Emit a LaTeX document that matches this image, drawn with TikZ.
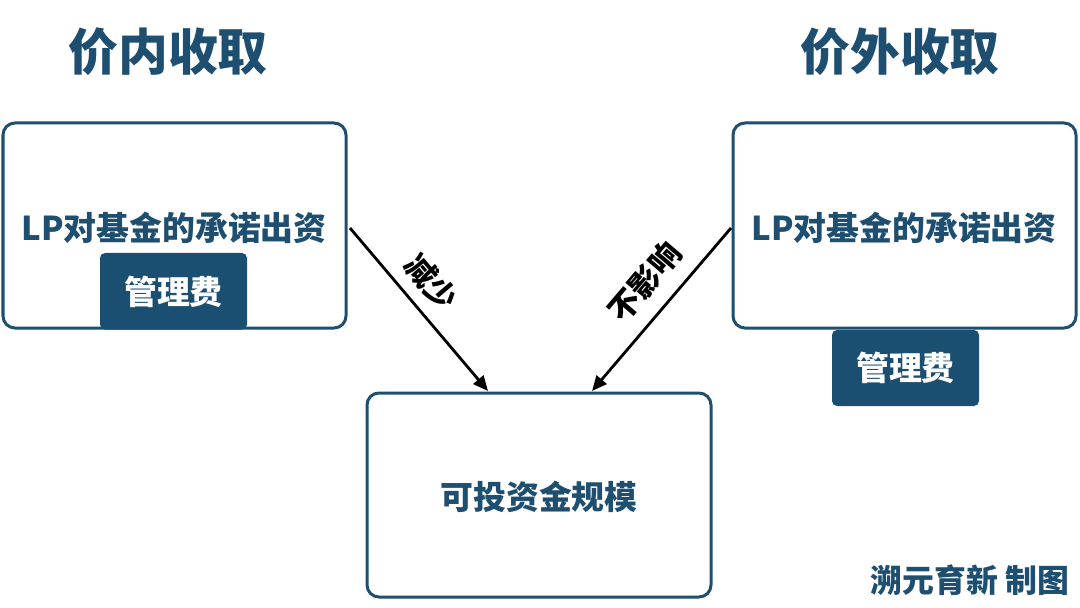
\documentclass[tikz,border=0pt]{standalone}
\usepackage{fontspec}
\setmainfont{Noto Sans CJK SC}
\usetikzlibrary{arrows.meta}
\definecolor{navy}{HTML}{1E4F70}
\definecolor{fillnavy}{HTML}{1B4F72}
\tikzset{
  mainbox/.style={draw=navy, line width=3bp, rounded corners=12bp, fill=white},
  feebox/.style={fill=fillnavy, rounded corners=5bp},
  title/.style={text=navy, font=\bfseries\fontsize{50}{56}\selectfont},
  boxtext/.style={text=navy, font=\bfseries\fontsize{33}{38}\selectfont},
  feetext/.style={text=white, font=\bfseries\fontsize{33}{38}\selectfont},
  lbl/.style={text=black, inner sep=0bp, font=\bfseries\fontsize{31}{34}\selectfont},
  conn/.style={draw=black, line width=2.8bp, -{Triangle[length=15bp,width=13bp]}},
}
\begin{document}
\begin{tikzpicture}[x=1bp,y=-1bp]
\useasboundingbox (0,0) rectangle (1080,608);
\fill[white] (0,0) rectangle (1080,608);
% titles
\node[title] (t1) at (168,52) {价内收取};
\node[title] (t2) at (900,52) {价外收取};
% boxes
\draw[mainbox] (3,123) rectangle (346,328);
\path (3,123) rectangle (346,328) node[midway, inner sep=0] (lbox) {};
\draw[mainbox] (733,123) rectangle (1076,328);
\path (733,123) rectangle (1076,328) node[midway, inner sep=0] (rbox) {};
\draw[mainbox] (367,393) rectangle (711,597);
\path (367,393) rectangle (711,597) node[midway, inner sep=0] (cbox) {};
% texts
\node[boxtext] (ltxt) at (174,228) {LP对基金的承诺出资};
\node[boxtext] (rtxt) at (904,228) {LP对基金的承诺出资};
\node[boxtext] (ctxt) at (539,497) {可投资金规模};
% fee boxes
\fill[feebox] (100,253) rectangle (247,329.5);
\node[feetext] (lfee) at (173.5,292) {管理费};
\fill[feebox] (832,330) rectangle (979,406);
\node[feetext] (rfee) at (905.5,368) {管理费};
% connectors
\coordinate (a1) at (350,228);
\coordinate (b1) at (488,391);
\coordinate (a2) at (731,228);
\coordinate (b2) at (592,391);
\draw[conn] (a1) -- (b1);
\draw[conn] (a2) -- (b2);
\node[lbl, rotate=-49.6] (l1) at (431,282) {减少};
\node[lbl, rotate=49.6] (l2) at (645,282) {不影响};
% credit
\node[text=navy, font=\bfseries\fontsize{32}{36}\selectfont, anchor=east] (credit) at (1073,580) {溯元育新 制图};
\end{tikzpicture}
\end{document}
